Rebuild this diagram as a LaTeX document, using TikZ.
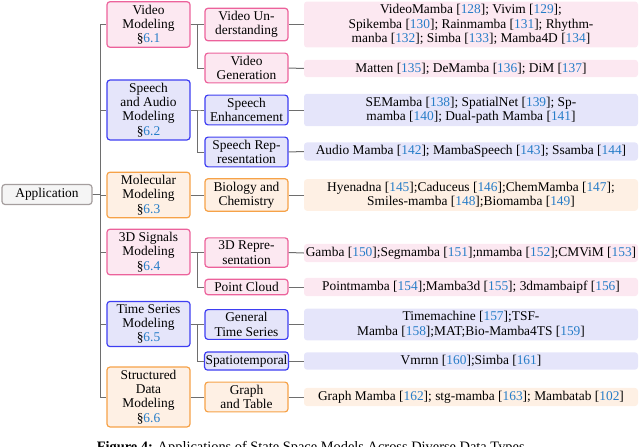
\documentclass[tikz,border=0pt]{standalone}
\usepackage{fontspec}
\setmainfont{Liberation Serif}

\definecolor{rootline}{RGB}{165,158,158}
\definecolor{rootfill}{RGB}{245,245,245}
\definecolor{pinkline}{RGB}{236,98,155}
\definecolor{pinkfill}{RGB}{252,232,241}
\definecolor{blueline}{RGB}{62,62,242}
\definecolor{bluefill}{RGB}{229,229,250}
\definecolor{orangeline}{RGB}{246,162,72}
\definecolor{orangefill}{RGB}{254,240,228}
\definecolor{refblue}{RGB}{38,125,200}
\definecolor{linkgray}{RGB}{110,110,110}

\newcommand{\rf}[1]{[\textcolor{refblue}{#1}]}
\newcommand{\sect}[1]{\S\textcolor{refblue}{#1}}

\begin{document}
\begin{tikzpicture}[x=1pt,y=-1pt,
  every node/.style={font=\fontsize{13.4}{14.3}\selectfont, align=center,
    rounded corners=3pt, inner ysep=3pt, inner xsep=1pt},
  link/.style={draw=linkgray, line width=1pt},
  root/.style={draw=rootline, fill=rootfill, line width=1.2pt,
    minimum width=90pt, minimum height=20pt},
  topic/.style={draw=#1line, fill=#1fill, line width=1.2pt, minimum width=83pt},
  leaf/.style={fill=#1fill, minimum width=334pt}]
  \useasboundingbox (0,0) rectangle (640,447);

  \node[root] (app) at (47,194.5) {Application};

  \node[topic=pink] (video) at (148.5,24.5) {Video\\Modeling\\\sect{6.1}};
  \node[topic=blue] (speech) at (148.5,110) {Speech\\and Audio\\Modeling\\\sect{6.2}};
  \node[topic=orange] (mol) at (148.5,195) {Molecular\\Modeling\\\sect{6.3}};
  \node[topic=pink] (signal) at (148.5,252) {3D Signals\\Modeling\\\sect{6.4}};
  \node[topic=blue] (series) at (148.5,324) {Time Series\\Modeling\\\sect{6.5}};
  \node[topic=orange] (struct) at (148.5,397) {Structured\\Data\\Modeling\\\sect{6.6}};

  \node[topic=pink] (vunder) at (246.5,24.5) {Video Un-\\derstanding};
  \node[topic=pink] (vgen) at (246.5,68) {Video\\Generation};
  \node[topic=blue] (senh) at (246.5,110) {Speech\\Enhancement};
  \node[topic=blue] (srep) at (246.5,152) {Speech Rep-\\resentation};
  \node[topic=orange] (biochem) at (246.5,195) {Biology and\\Chemistry};
  \node[topic=pink] (rep3d) at (246.5,252.5) {3D Repre-\\sentation};
  \node[topic=pink] (cloud) at (246.5,287) {Point Cloud};
  \node[topic=blue] (gts) at (246.5,324.5) {General\\Time Series};
  \node[topic=blue] (spatio) at (246.5,361) {Spatiotemporal};
  \node[topic=orange] (graph) at (246.5,397) {Graph\\and Table};

  \node[leaf=pink] (vunderL) at (471,24.5) {VideoMamba \rf{128}; Vivim \rf{129};\\Spikemba \rf{130}; Rainmamba \rf{131}; Rhythm-\\manba \rf{132}; Simba \rf{133}; Mamba4D \rf{134}};
  \node[leaf=pink] (vgenL) at (471,68.5) {Matten \rf{135}; DeMamba \rf{136}; DiM \rf{137}};
  \node[leaf=blue] (senhL) at (471,110) {SEMamba \rf{138}; SpatialNet \rf{139}; Sp-\\mamba \rf{140}; Dual-path Mamba \rf{141}};
  \node[leaf=blue] (srepL) at (471,151.5) {Audio Mamba \rf{142}; MambaSpeech \rf{143}; Ssamba \rf{144}};
  \node[leaf=orange] (biochemL) at (471,195) {Hyenadna \rf{145};Caduceus \rf{146};ChemMamba \rf{147};\\Smiles-mamba \rf{148};Biomamba \rf{149}};
  \node[leaf=pink] (rep3dL) at (471,253) {Gamba \rf{150};Segmamba \rf{151};nmamba \rf{152};CMViM \rf{153}};
  \node[leaf=pink] (cloudL) at (471,287) {Pointmamba \rf{154};Mamba3d \rf{155}; 3dmambaipf \rf{156}};
  \node[leaf=blue] (gtsL) at (471,324.5) {Timemachine \rf{157};TSF-\\Mamba \rf{158};MAT;Bio-Mamba4TS \rf{159}};
  \node[leaf=blue] (spatioL) at (471,361) {Vmrnn \rf{160};Simba \rf{161}};
  \node[leaf=orange] (graphL) at (471,397) {Graph Mamba \rf{162}; stg-mamba \rf{163}; Mambatab \rf{102}};

  \foreach \t in {video,speech,mol,signal,series,struct}
    \draw[link] (app.east) -- ++(8,0) |- (\t.west);

  \draw[link] (video.east) -- ++(7,0) |- (vunder.west);
  \draw[link] (video.east) -- ++(7,0) |- (vgen.west);
  \draw[link] (speech.east) -- ++(7,0) |- (senh.west);
  \draw[link] (speech.east) -- ++(7,0) |- (srep.west);
  \draw[link] (mol.east) -- (biochem.west);
  \draw[link] (signal.east) -- ++(7,0) |- (rep3d.west);
  \draw[link] (signal.east) -- ++(7,0) |- (cloud.west);
  \draw[link] (series.east) -- ++(7,0) |- (gts.west);
  \draw[link] (series.east) -- ++(7,0) |- (spatio.west);
  \draw[link] (struct.east) -- (graph.west);

  \foreach \s in {vunder,vgen,senh,srep,biochem,rep3d,cloud,gts,spatio,graph}
    \draw[link] (\s.east) -- (\s L.west);

  \node[anchor=base, font=\fontsize{14.4}{16}\selectfont] (caption) at (312.5,451.5) {\textbf{Figure 4:} Applications of State Space Models Across Diverse Data Types.};
\end{tikzpicture}
\end{document}
